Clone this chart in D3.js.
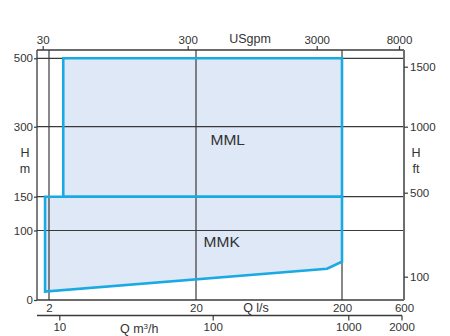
<!DOCTYPE html>
<html><head><meta charset="utf-8">
<script src="https://cdn.jsdelivr.net/npm/d3@7"></script>
<style>body{margin:0;background:#fff}svg{display:block}text{font-family:"Liberation Sans",Arial,sans-serif;fill:#333}</style>
</head><body>
<script>
// ---- data ----
const qTicks = [2, 20, 200, 600];          // Q l/s
const gpmTicks = [30, 300, 3000, 8000];    // USgpm
const m3hTicks = [10, 100, 1000, 2000];    // Q m3/h
const hmTicks = [0, 100, 150, 300, 500];   // H m
const hftTicks = [100, 500, 1000, 1500];   // H ft
const qGrid = [2, 20, 200];
const hGrid = [100, 150, 300, 500];
// MML range (Q l/s, H m)
const mmlQ = [2.5, 200, 200, 2.5];
const mmlH = [500, 500, 150, 150];
// MMK range
const mmkQ = [1.88, 200, 200, 158, 1.88];
const mmkH = [150, 150, 55, 45, 12];
const labels = ["MML", "MMK"];
const labelQ = [33, 30];
const labelH = [272, 84];

// ---- layout ----
const W = 450, H = 336;
const L = 37, R = 404, T = 50, B = 300;
const svg = d3.select("body").append("svg").attr("width", W).attr("height", H);

const x = d3.scaleLog().domain(qTicks).range([49, 196, 342, 404]);
const xg = d3.scaleLog().domain(gpmTicks).range([42.7, 187.7, 316.7, 399]);
const xm = d3.scaleLog().domain(m3hTicks).range([59.3, 212.7, 348.3, 401.5]);
const y = d3.scaleLinear().domain(hmTicks).range([300, 230.5, 196.7, 126.7, 58.3]);
const yf = d3.scaleLinear().domain(hftTicks).range([276.7, 192.7, 126.7, 66.7]);

const blue = "#19aae4", fill = "#dee8f6", dark = "#3a3a3a";
const line = d3.line().x(d => x(d[0])).y(d => y(d[1]));
const mml = mmlQ.map((q, i) => [q, mmlH[i]]);
const mmk = mmkQ.map((q, i) => [q, mmkH[i]]);

// fills
svg.append("path").attr("d", line(mmk) + "Z").attr("fill", fill);
svg.append("path").attr("d", line(mml) + "Z").attr("fill", fill);

// grid
svg.selectAll(".hg").data(hGrid).join("line")
  .attr("x1", L).attr("x2", R).attr("y1", d => y(d)).attr("y2", d => y(d))
  .attr("stroke", dark).attr("stroke-width", 1.2);
svg.selectAll(".vg").data(qGrid).join("line")
  .attr("x1", d => x(d)).attr("x2", d => x(d)).attr("y1", T).attr("y2", B)
  .attr("stroke", dark).attr("stroke-width", 1.2);

// frame
svg.append("line").attr("x1", L).attr("x2", R).attr("y1", T).attr("y2", T).attr("stroke", dark).attr("stroke-width", 1.3);
svg.append("line").attr("x1", L).attr("x2", R).attr("y1", B).attr("y2", B).attr("stroke", dark).attr("stroke-width", 1.5);
svg.append("line").attr("x1", L).attr("x2", L).attr("y1", T).attr("y2", B).attr("stroke", dark).attr("stroke-width", 1.3);
svg.append("line").attr("x1", R).attr("x2", R).attr("y1", T).attr("y2", B).attr("stroke", "#6e6e6e").attr("stroke-width", 2);

// outlines
svg.append("path").attr("d", line(mmk) + "Z").attr("fill", "none").attr("stroke", blue).attr("stroke-width", 2.6).attr("stroke-linejoin", "miter");
svg.append("path").attr("d", line(mml) + "Z").attr("fill", "none").attr("stroke", blue).attr("stroke-width", 2.6);

function style(g) {
  g.select(".domain").remove();
  g.selectAll(".tick line").attr("stroke", dark).attr("stroke-width", 1.2);
  g.selectAll("text").attr("font-size", 11.5).attr("fill", "#333").attr("font-family", "Liberation Sans, Arial, sans-serif");
}
// left axis
svg.append("g").attr("transform", `translate(${L},0)`)
  .call(d3.axisLeft(y).tickValues(hmTicks).tickSize(3).tickPadding(1).tickFormat(d3.format("d"))).call(style);
// right axis
svg.append("g").attr("transform", `translate(${R},0)`)
  .call(d3.axisRight(yf).tickValues(hftTicks).tickSize(4).tickPadding(2).tickFormat(d3.format("d"))).call(style);
// top axis (USgpm)
svg.append("g").attr("transform", `translate(0,${T})`)
  .call(d3.axisTop(xg).tickValues(gpmTicks).tickSize(4).tickPadding(2).tickFormat(d3.format("d"))).call(style);
// bottom Q l/s
svg.append("g").attr("transform", `translate(0,${B})`)
  .call(d3.axisBottom(x).tickValues(qTicks).tickSize(0).tickPadding(4).tickFormat(d3.format("d"))).call(style);
// bottom m3/h
svg.append("line").attr("x1", L).attr("x2", 402).attr("y1", 315.5).attr("y2", 315.5).attr("stroke", dark).attr("stroke-width", 1.3);
svg.append("g").attr("transform", `translate(0,315.5)`)
  .call(d3.axisBottom(xm).tickValues(m3hTicks).tickSize(5).tickPadding(2).tickFormat(d3.format("d"))).call(style);

// axis titles
const t = (tx, ty, s, anchor, size) => svg.append("text").attr("x", tx).attr("y", ty).attr("text-anchor", anchor || "middle").attr("font-size", size || 12).text(s);
t(250, 43, "USgpm", "middle", 12.5);
t(25, 157, "H", "middle", 12.5);
t(25, 173, "m", "middle", 12.5);
t(416, 157, "H", "middle", 12.5);
t(416, 173, "ft", "middle", 12.5);
t(256, 312, "Q l/s", "middle", 12.5);
svg.append("text").attr("x", 120).attr("y", 333).attr("font-size", 12.5).html('Q m<tspan baseline-shift="super" font-size="8">3</tspan>/h');

// region labels
svg.selectAll(".rl").data(labels).join("text")
  .attr("x", (d, i) => x(labelQ[i])).attr("y", (d, i) => y(labelH[i]))
  .attr("text-anchor", "middle").attr("dominant-baseline", "central")
  .attr("font-size", 15.5).text(d => d);
</script>
</body></html>
